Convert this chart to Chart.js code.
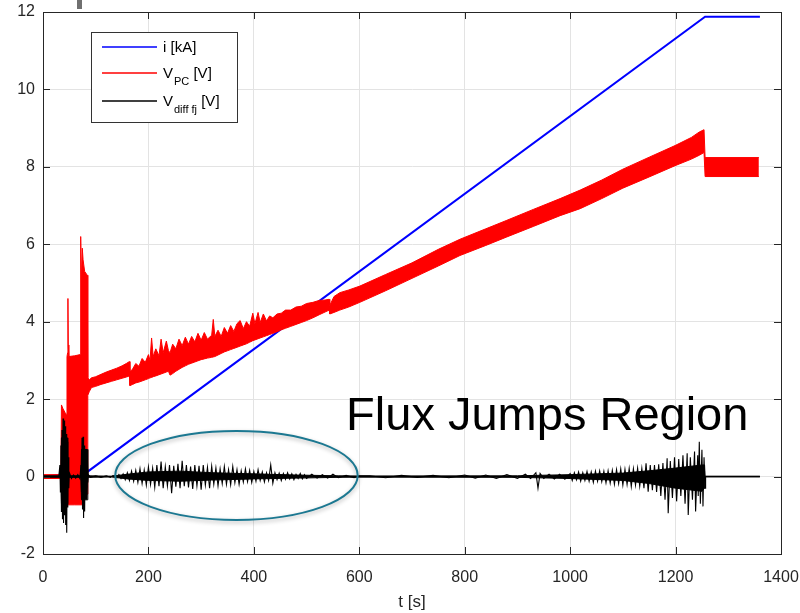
<!DOCTYPE html>
<html>
<head>
<meta charset="utf-8">
<script src="https://cdn.jsdelivr.net/npm/chart.js@4/dist/chart.umd.min.js"></script>
<style>
  html, body { margin: 0; padding: 0; background: #fff; }
  canvas { display: block; }
</style>
</head>
<body>
<canvas id="chart" width="800" height="613"></canvas>
<script>
// Axis ticks
const xTicks = [0, 200, 400, 600, 800, 1000, 1200, 1400];
const yTicks = [-2, 0, 2, 4, 6, 8, 10, 12];

// i [kA] - current ramp
const iTime = [0, 84, 1256, 1360];
const iVal = [0, 0.12, 11.88, 11.88];

// V_PC [V] - the noisy band, read as lower and upper edge
const vpcTime = [0, 34, 35, 38, 42, 45, 45.5, 46.8, 47.3, 47.9, 49, 60, 70.5, 71.5, 73, 74.5, 76, 79, 84,
  85, 88, 92, 100, 110, 120, 130, 140, 150, 158, 164, 165, 170, 176, 182, 188, 194, 200, 203, 206, 209,
  214, 220, 224, 228, 234, 238, 241, 246, 252, 258, 264, 270, 276, 282, 288, 294, 300, 306, 312, 320,
  323, 326, 332, 338, 344, 350, 356, 362, 368, 374, 380, 386, 392, 398, 402, 408, 412, 418, 424, 430,
  436, 444, 452, 460, 470, 480, 490, 500, 512, 524, 535, 543, 544, 552, 563, 580, 601, 650, 700, 750,
  791, 840, 880, 930, 981, 1019, 1060, 1100, 1150, 1199, 1230, 1245, 1254, 1256, 1358];
const vpcLow = [-0.05, -0.05, -0.05, 0, 0, 0, -0.73, -0.73, -0.73, -0.73, -0.73, -0.73, -0.73, -0.73, -0.73, -0.73, -0.73, -0.55, -0.45,
  2.1, 2.2, 2.3, 2.33, 2.38, 2.42, 2.46, 2.5, 2.54, 2.57, 2.6, 2.35, 2.38, 2.42, 2.44, 2.47, 2.5, 2.53, 2.55, 2.56, 2.58,
  2.6, 2.63, 2.65, 2.67, 2.7, 2.72, 2.62, 2.66, 2.72, 2.77, 2.82, 2.86, 2.9, 2.93, 2.96, 2.99, 3.02, 3.04, 3.06, 3.08,
  3.09, 3.1, 3.14, 3.18, 3.22, 3.25, 3.28, 3.31, 3.34, 3.37, 3.4, 3.43, 3.47, 3.51, 3.53, 3.56, 3.58, 3.61, 3.64, 3.67,
  3.7, 3.74, 3.79, 3.83, 3.88, 3.93, 3.98, 4.03, 4.1, 4.18, 4.25, 4.3, 4.2, 4.24, 4.3, 4.38, 4.5, 4.8, 5.12, 5.44,
  5.71, 5.97, 6.19, 6.46, 6.74, 6.92, 7.18, 7.45, 7.74, 8.03, 8.2, 8.3, 8.37, 7.75, 7.75];
const vpcHigh = [0.05, 0.05, 1.85, 1.75, 1.65, 1.6, 3.1, 3.2, 4.6, 3.4, 3.1, 3.12, 3.15, 6.2, 5.0, 5.9, 5.6, 5.3, 5.2,
  2.55, 2.5, 2.55, 2.58, 2.64, 2.7, 2.75, 2.8, 2.86, 2.92, 2.97, 2.7, 2.78, 2.92, 2.85, 3.05, 2.95, 3.15, 3.0, 3.58, 3.1,
  3.3, 3.12, 3.55, 3.2, 3.5, 3.25, 3.2, 3.42, 3.3, 3.55, 3.38, 3.6, 3.42, 3.62, 3.48, 3.7, 3.52, 3.72, 3.55, 3.65,
  4.06, 3.62, 3.78, 3.62, 3.85, 3.7, 3.9, 3.75, 3.95, 4.03, 3.82, 4.0, 3.88, 4.22, 3.95, 4.24, 3.98, 4.2, 4.02, 4.15,
  4.1, 4.2, 4.22, 4.3, 4.3, 4.38, 4.4, 4.47, 4.5, 4.55, 4.56, 4.58, 4.42, 4.65, 4.75, 4.82, 4.92, 5.22, 5.52, 5.87,
  6.13, 6.4, 6.62, 6.9, 7.18, 7.4, 7.66, 7.94, 8.25, 8.55, 8.76, 8.9, 8.96, 8.24, 8.24];

// V_diff fj [V] - dense core of the noise (lower / upper edge)
const coreTime = [0, 34, 35, 46, 47, 72, 73, 84, 85, 130, 160, 200, 260, 320, 400, 480, 560, 600, 900, 1000, 1100, 1150, 1200, 1250, 1255, 1256, 1360];
const coreLow = [-0.02, -0.02, -0.7, -0.7, -0.02, -0.02, -0.6, -0.6, -0.02, -0.01, -0.06, -0.1, -0.12, -0.09, -0.06, -0.04, -0.02, -0.015, -0.02, -0.05, -0.1, -0.18, -0.3, -0.38, -0.3, -0.01, -0.01];
const coreHigh = [0.02, 0.02, 1.0, 1.0, 0.02, 0.02, 0.7, 0.7, 0.02, 0.01, 0.06, 0.12, 0.14, 0.1, 0.07, 0.04, 0.02, 0.015, 0.02, 0.05, 0.09, 0.15, 0.22, 0.3, 0.3, 0.01, 0.01];

// V_diff fj [V] - individual flux jump spikes
const vdTime = [0, 30, 32, 33, 34, 35, 36, 37, 38, 39, 40, 41, 42, 43, 44, 45, 46, 47, 48, 49, 50, 54, 58, 62, 66, 70,
  72, 73, 74, 75, 76, 77, 78, 79, 80, 81, 82, 83, 84, 85, 86, 90, 100, 110, 120, 128, 132,
  136, 140, 144, 148, 152, 156, 160, 164, 168, 172, 176, 180, 184, 188, 192, 196, 200, 204, 208, 212, 216, 220,
  224, 228, 232, 236, 240, 244, 248, 252, 256, 260, 264, 268, 272, 276, 280, 284, 288, 292, 296, 300, 304, 308,
  312, 316, 320, 324, 328, 332, 336, 340, 344, 348, 352, 356, 360, 364, 368, 372, 376, 380, 384, 388, 392, 396,
  400, 404, 408, 412, 416, 420, 424, 428, 432, 436, 440, 444, 448, 452, 456, 460, 464, 468, 472, 476, 480, 484,
  488, 492, 496, 500, 510, 520, 530, 540, 550, 560, 575, 590, 600,
  620, 650, 680, 710, 740, 770, 800, 820, 840, 860, 880, 900, 915, 925, 935, 939, 943, 950, 960, 970, 980, 990,
  1000, 1004, 1008, 1012, 1016, 1020, 1024, 1028, 1032, 1036, 1040, 1044, 1048, 1052, 1056, 1060, 1064, 1068,
  1072, 1076, 1080, 1084, 1088, 1092, 1096, 1100, 1104, 1108, 1112, 1116, 1120, 1124, 1128, 1132, 1136, 1140,
  1144, 1148, 1152, 1156, 1160, 1164, 1168, 1172, 1176, 1180, 1184, 1186, 1190, 1194, 1198, 1202, 1206, 1210,
  1214, 1218, 1222, 1224, 1228, 1232, 1236, 1238, 1242, 1243, 1245, 1247, 1250, 1252, 1254, 1256, 1257, 1360];
const vdVal = [0, 0, 0.3, -0.4, 0.8, -0.9, 1.2, -1.1, 1.5, -1.2, 1.45, -1.0, 1.3, -1.25, 1.1, -1.45, 0.9, -0.8, 0.5, -0.3, 0.1, -0.05, 0.04, -0.04, 0.05, -0.05,
  0.3, -0.4, 1.0, -0.85, 1.03, -1.07, 0.8, -0.9, 0.65, -0.55, 0.4, -0.3, 0.2, -0.15, 0.05, -0.02, 0.02, -0.02, 0.02, -0.02, 0.02,
  0.02, -0.03, 0.05, -0.05, 0.07, -0.08, 0.1, -0.1, 0.14, -0.12, 0.16, -0.15, 0.2, -0.18, 0.17, -0.22, 0.25, -0.2, 0.22, -0.28, 0.3, -0.25,
  0.39, -0.3, 0.26, -0.24, 0.3, -0.43, 0.28, -0.26, 0.33, -0.3, 0.41, -0.25, 0.3, -0.28, 0.26, -0.32, 0.3, -0.24, 0.28, -0.34, 0.3, -0.22,
  0.24, -0.3, 0.27, -0.2, 0.22, -0.24, 0.2, -0.18, 0.26, -0.2, 0.18, -0.21, 0.26, -0.16, 0.18, -0.2, 0.15, -0.14, 0.2, -0.13, 0.16, -0.15,
  0.13, -0.12, 0.18, -0.1, 0.12, -0.14, 0.1, -0.1, 0.3, -0.17, 0.1, -0.08, 0.09, -0.1, 0.08, -0.07, 0.1, -0.06, 0.07, -0.08, 0.06, -0.05,
  0.08, -0.06, 0.05, -0.05, 0.06, -0.04, 0.05, -0.04, 0.06, -0.03, 0.03, -0.03, 0.02,
  0.02, -0.03, 0.03, -0.02, 0.03, -0.03, 0.04, -0.04, 0.04, -0.05, 0.05, -0.05, 0.06, -0.05, 0.1, -0.3, 0.08, -0.05, 0.06, -0.06, 0.06, -0.07,
  0.08, -0.1, 0.1, -0.08, 0.12, -0.12, 0.1, -0.1, 0.13, -0.12, 0.12, -0.15, 0.14, -0.12, 0.15, -0.13, 0.14, -0.16,
  0.15, -0.17, 0.16, -0.2, 0.18, -0.18, 0.2, -0.22, 0.19, -0.2, 0.21, -0.26, 0.2, -0.22, 0.22, -0.25, 0.21, -0.3,
  0.34, -0.39, 0.3, -0.35, 0.3, -0.4, 0.32, -0.5, 0.35, -0.6, 0.47, -0.95, 0.4, -0.55, 0.5, -0.64, 0.45, -0.5,
  0.55, -0.7, 0.6, -0.99, 0.5, -0.6, 0.65, -0.9, 0.55, -0.5, 0.9, -0.7, 0.69, -0.77, 0.5, -0.3, 0, 0];

// annotation: ellipse around the flux jump region and its caption
const ring = { t: 367, v: 0.03, rt: 230, rv: 1.15 };
const caption = { text: 'Flux Jumps Region', t: 575, v: 1.2 };

// legend text split into main / subscript / unit
const legendMain = ['i', 'V', 'V'];
const legendSub = ['', 'PC', 'diff fj'];
const legendUnit = [' [kA]', ' [V]', ' [V]'];
const legendColors = ['#0000ff', '#ff0000', '#000000'];

const FONT = '"Liberation Sans", Arial, Helvetica, sans-serif';
const AXIS = '#262626';

function pts(xs, ys) {
  return xs.map((x, k) => ({ x: x, y: ys[k] }));
}

const overlay = {
  id: 'overlay',
  afterDatasetsDraw(chart) {
    const ctx = chart.ctx;
    const xs = chart.scales.x, ys = chart.scales.y;

    // ellipse with a soft shadow
    const cx = xs.getPixelForValue(ring.t), cy = ys.getPixelForValue(ring.v);
    const rx = xs.getPixelForValue(ring.t + ring.rt) - cx;
    const ry = cy - ys.getPixelForValue(ring.v + ring.rv);
    ctx.save();
    ctx.shadowColor = 'rgba(0,0,0,0.3)';
    ctx.shadowBlur = 4;
    ctx.shadowOffsetY = 2;
    ctx.strokeStyle = '#1c7891';
    ctx.lineWidth = 2;
    ctx.beginPath();
    ctx.ellipse(cx, cy, rx, ry, 0, 0, Math.PI * 2);
    ctx.stroke();
    ctx.restore();

    // caption
    ctx.save();
    ctx.fillStyle = '#000';
    ctx.font = '47px ' + FONT;
    ctx.textBaseline = 'alphabetic';
    ctx.fillText(caption.text, xs.getPixelForValue(caption.t), ys.getPixelForValue(caption.v));
    ctx.restore();
  },
  afterDraw(chart) {
    const ctx = chart.ctx;
    const a = chart.chartArea;
    const xs = chart.scales.x, ys = chart.scales.y;
    ctx.save();
    ctx.strokeStyle = AXIS;
    ctx.lineWidth = 1;
    // box
    ctx.strokeRect(Math.round(a.left) + 0.5, Math.round(a.top) + 0.5,
      Math.round(a.right - a.left), Math.round(a.bottom - a.top));
    // inward ticks
    ctx.beginPath();
    xTicks.forEach(v => {
      const px = Math.round(xs.getPixelForValue(v)) + 0.5;
      ctx.moveTo(px, a.bottom); ctx.lineTo(px, a.bottom - 7);
      ctx.moveTo(px, a.top); ctx.lineTo(px, a.top + 7);
    });
    yTicks.forEach(v => {
      const py = Math.round(ys.getPixelForValue(v)) + 0.5;
      ctx.moveTo(a.left, py); ctx.lineTo(a.left + 7, py);
      ctx.moveTo(a.right, py); ctx.lineTo(a.right - 7, py);
    });
    ctx.stroke();

    // small grey mark above the axes
    ctx.fillStyle = '#707070';
    ctx.fillRect(77, 0, 5, 9);

    // legend
    const lx = 91, ly = 32, lw = 146, lh = 90;
    ctx.fillStyle = '#fff';
    ctx.fillRect(lx, ly, lw, lh);
    ctx.strokeStyle = '#333';
    ctx.strokeRect(lx + 0.5, ly + 0.5, lw, lh);
    const rowY = [47, 73, 101];
    legendMain.forEach((m, k) => {
      const y = rowY[k];
      ctx.strokeStyle = legendColors[k];
      ctx.lineWidth = 1.5;
      ctx.beginPath();
      ctx.moveTo(102, y); ctx.lineTo(157, y);
      ctx.stroke();
      ctx.fillStyle = '#000';
      ctx.textBaseline = 'alphabetic';
      ctx.font = '15px ' + FONT;
      let x = 163;
      ctx.fillText(m, x, y + 5);
      x += ctx.measureText(m).width;
      if (legendSub[k]) {
        ctx.font = '11px ' + FONT;
        ctx.fillText(legendSub[k], x + 1, y + 12);
        x += ctx.measureText(legendSub[k]).width + 1;
        ctx.font = '15px ' + FONT;
      }
      ctx.fillText(legendUnit[k], x, y + 5);
    });
    ctx.restore();
  }
};

const gridColor = '#e3e3e3';
const black = '#000000';

new Chart(document.getElementById('chart'), {
  type: 'line',
  data: {
    datasets: [
      { label: 'i [kA]', data: pts(iTime, iVal), borderColor: '#0000ff', borderWidth: 2, pointRadius: 0, fill: false, order: 3 },
      { label: 'V_PC low', data: pts(vpcTime, vpcLow), borderColor: '#ff0000', borderWidth: 1, pointRadius: 0, fill: false, order: 2 },
      { label: 'V_PC [V]', data: pts(vpcTime, vpcHigh), borderColor: '#ff0000', borderWidth: 1, pointRadius: 0,
        backgroundColor: '#ff0000', fill: 1, order: 2 },
      { label: 'core low', data: pts(coreTime, coreLow), borderColor: black, borderWidth: 1, pointRadius: 0, fill: false, order: 1 },
      { label: 'core high', data: pts(coreTime, coreHigh), borderColor: black, borderWidth: 1, pointRadius: 0,
        backgroundColor: black, fill: 3, order: 1 },
      { label: 'V_diff fj [V]', data: pts(vdTime, vdVal), borderColor: black, borderWidth: 1.1, pointRadius: 0, fill: false, order: 0 }
    ]
  },
  options: {
    responsive: false,
    animation: false,
    devicePixelRatio: 1,
    layout: { padding: { top: 12, right: 19, left: 0, bottom: 0 } },
    elements: { line: { tension: 0 } },
    plugins: { legend: { display: false }, tooltip: { enabled: false } },
    scales: {
      x: {
        type: 'linear', min: 0, max: 1400,
        afterBuildTicks: s => { s.ticks = xTicks.map(v => ({ value: v })); },
        afterFit: s => { s.height = 59; s.paddingLeft = 0; s.paddingRight = 0; },
        grid: { color: gridColor, drawTicks: false },
        border: { color: AXIS, width: 1 },
        ticks: { font: { family: FONT, size: 16 }, color: AXIS, padding: 14, maxRotation: 0, autoSkip: false,
          callback: v => String(v) },
        title: { display: true, text: 't [s]', font: { family: FONT, size: 17 }, color: AXIS, padding: { top: 0, bottom: 0 } }
      },
      y: {
        type: 'linear', min: -2, max: 12,
        afterBuildTicks: s => { s.ticks = yTicks.map(v => ({ value: v })); },
        afterFit: s => { s.width = 43; s.paddingTop = 0; s.paddingBottom = 0; },
        grid: { color: gridColor, drawTicks: false },
        border: { color: AXIS, width: 1 },
        ticks: { font: { family: FONT, size: 16 }, color: AXIS, padding: 8, callback: v => String(v) }
      }
    }
  },
  plugins: [overlay]
});
</script>
</body>
</html>
